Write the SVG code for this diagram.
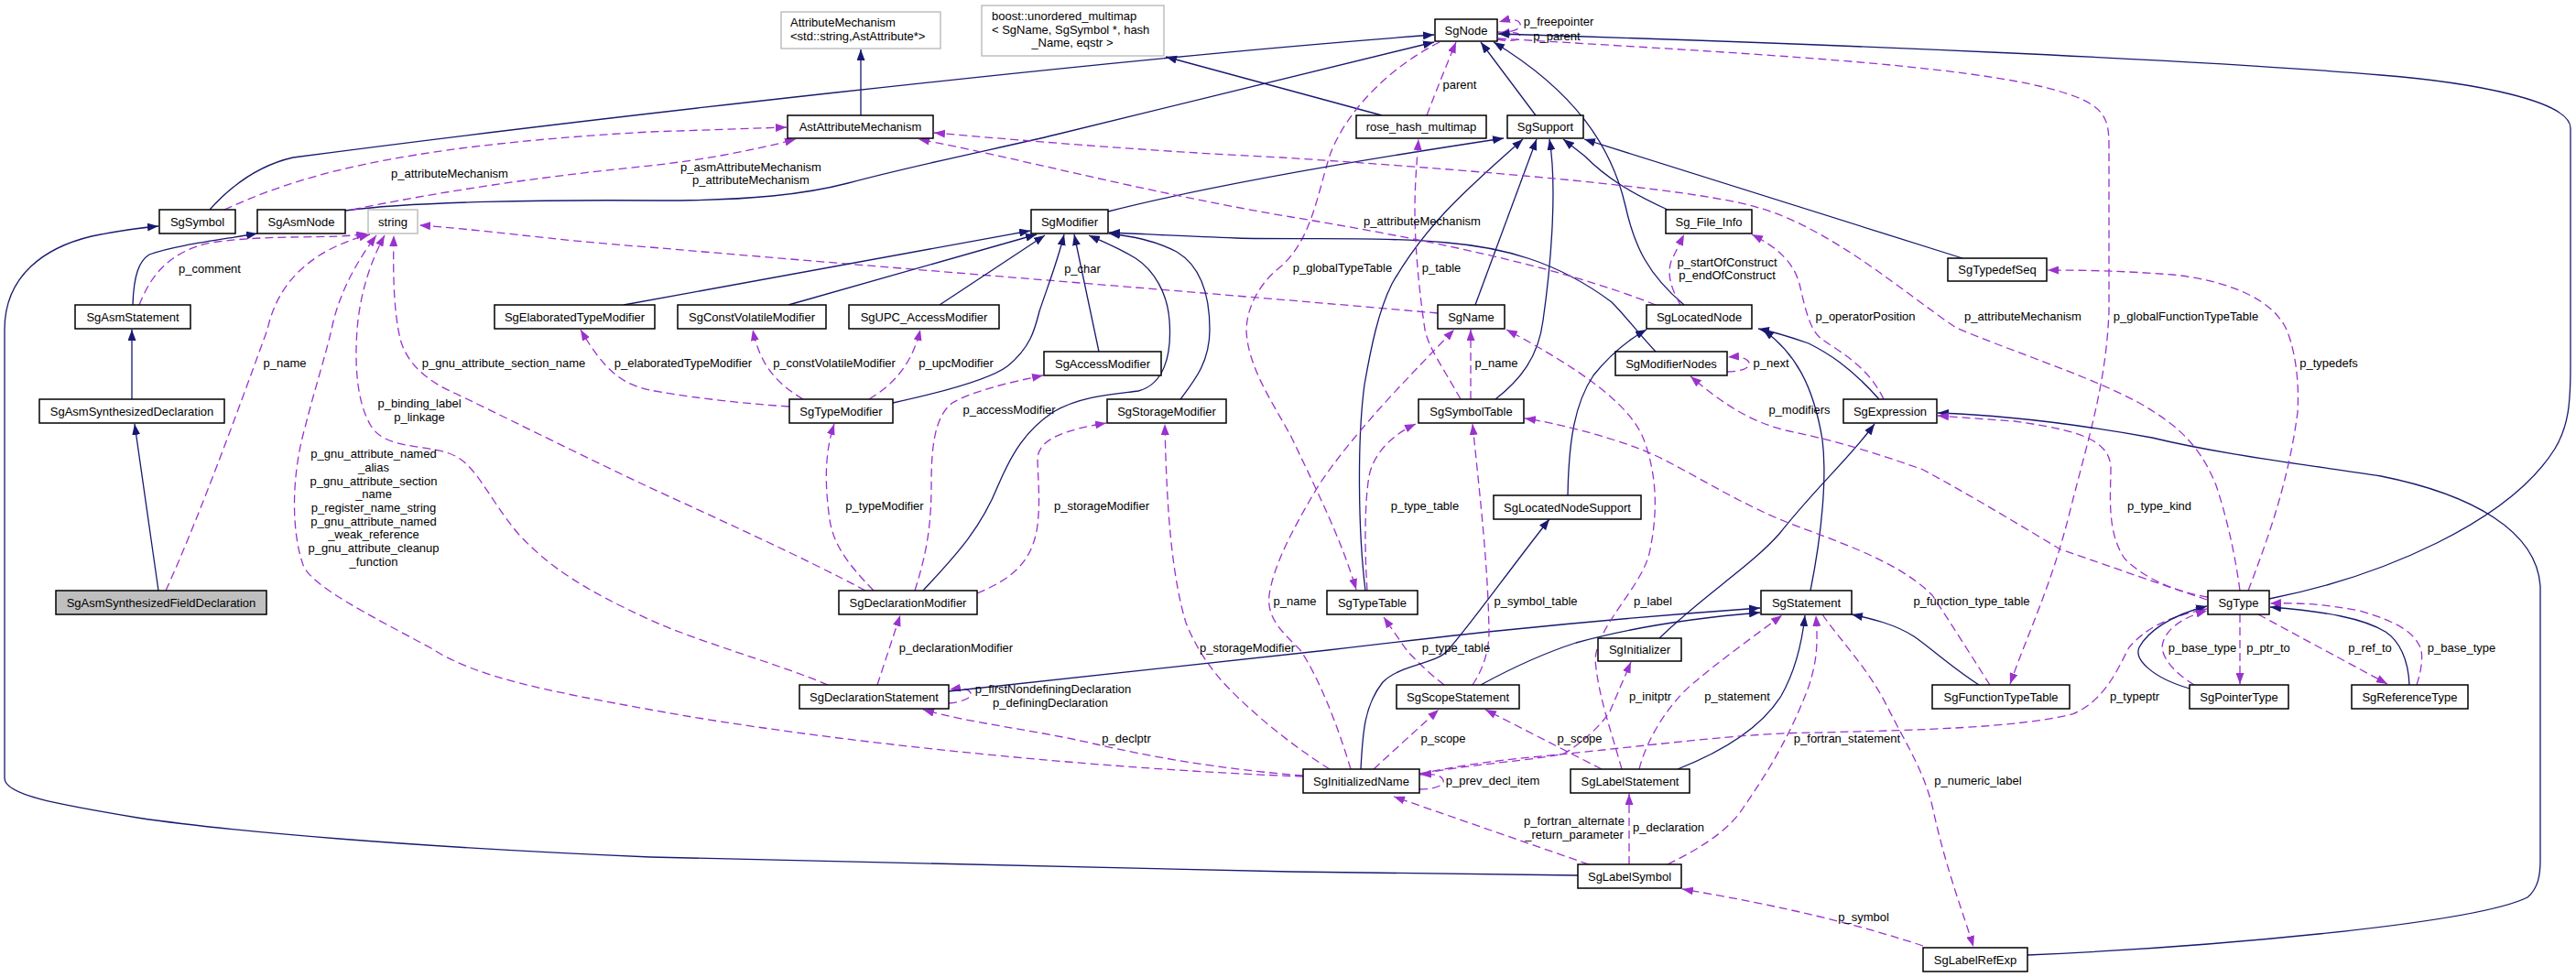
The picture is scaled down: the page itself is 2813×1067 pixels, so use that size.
<svg xmlns="http://www.w3.org/2000/svg" width="2813" height="1067" viewBox="0 0 2813 1067">
<defs>
<marker id="ai" viewBox="0 0 12 9" refX="12" refY="4.5" markerWidth="12" markerHeight="9" markerUnits="userSpaceOnUse" orient="auto"><path d="M0,0 L12,4.5 L0,9 z" fill="#191970" stroke="none"/></marker>
<marker id="au" viewBox="0 0 12 9" refX="12" refY="4.5" markerWidth="12" markerHeight="9" markerUnits="userSpaceOnUse" orient="auto"><path d="M0,0 L12,4.5 L0,9 z" fill="#9a32cd" stroke="none"/></marker>
<style>
text{font-family:"Liberation Sans",Arial,Helvetica,sans-serif;font-size:13px;fill:#000}
.n rect{fill:#fff;stroke:#000;stroke-width:1.5}
.g rect{fill:#fff;stroke:#bfbfbf;stroke-width:1.5}
.f rect{fill:#bfbfbf;stroke:#000;stroke-width:1.5}
.nt{text-anchor:middle}
.el{text-anchor:middle}
.i{fill:none;stroke:#191970;stroke-width:1.3;marker-end:url(#ai)}
.u{fill:none;stroke:#9a32cd;stroke-width:1.3;stroke-dasharray:9,5;marker-end:url(#au)}
</style>
</defs>
<rect width="2813" height="1067" fill="#fff"/>
<g id="edges">
<path class="i" d="M173,645 L147,463"/>
<path class="i" d="M144,436 L144,360"/>
<path class="i" d="M145,333 C146,300 152,285 163,278 C190,268 240,262 281,255"/>
<path class="i" d="M229,229 C255,200 285,180 320,172 C600,135 1200,65 1566,38"/>
<path class="u" d="M245,229 C320,195 420,160 710,144 L859,139"/>
<path class="i" d="M377,230 C450,220 600,218 720,219 C820,219 880,212 926,200 C1000,180 1100,160 1153,147 L1566,46"/>
<path class="u" d="M385,229 C500,205 620,190 700,182 C760,176 820,165 869,152"/>
<path class="u" d="M152,333 C165,300 185,275 230,265 C300,255 360,262 401,255"/>
<path class="u" d="M181,645 C220,560 270,420 292,360 C305,300 350,270 404,256"/>
<path class="u" d="M1423,848 C1200,840 900,810 710,775 C600,755 520,740 471,708 C400,670 340,640 331,617 C318,580 318,520 333,467 C345,420 355,390 362,360 C370,320 390,285 411,257"/>
<path class="u" d="M904,748 C850,725 760,700 710,677 C640,645 600,620 566,583 C530,540 520,505 490,495 C460,485 420,490 405,465 C390,440 387,400 390,360 C393,320 405,285 420,257"/>
<path class="u" d="M945,645 C880,610 780,565 700,528 C620,490 540,450 498,430 C470,418 445,400 437,370 C430,340 429,300 430,257"/>
<path class="u" d="M1570,342 C1300,318 1000,295 710,270 C600,262 520,250 458,246"/>
<path class="i" d="M940,126 L940,54"/>
<path class="i" d="M1509,126 L1273,62"/>
<path class="u" d="M1558,126 C1570,95 1580,70 1590,46"/>
<path class="u" d="M1635,35 C1650,36 1662,32 1660,26 C1658,21 1650,20 1637,24"/>
<path class="u" d="M1635,43 C1650,46 1662,44 1660,39 C1658,35 1650,35 1637,37"/>
<path class="i" d="M1677,126 L1617,46"/>
<path class="i" d="M1839,333 C1800,300 1785,270 1775,225 C1760,160 1720,100 1631,46"/>
<path class="i" d="M2478,654 C2600,630 2740,570 2790,490 C2805,465 2807,440 2807,400 L2807,140 C2807,110 2700,90 2600,82 C2400,65 2000,48 1636,37"/>
<path class="u" d="M1636,42 C1900,58 2150,70 2250,100 C2300,115 2303,130 2303,160 L2303,340 C2300,420 2280,480 2260,560 C2240,640 2215,690 2195,747"/>
<path class="u" d="M1572,46 C1520,72 1470,120 1452,170 C1438,215 1432,260 1400,290 C1380,305 1362,330 1361,360 C1362,400 1390,440 1410,477 C1440,540 1465,590 1481,644"/>
<path class="i" d="M1210,231 C1300,208 1450,180 1642,151"/>
<path class="i" d="M1491,645 C1483,580 1482,480 1490,420 C1497,380 1505,340 1520,310 C1560,240 1610,200 1663,152"/>
<path class="i" d="M1611,333 L1678,152"/>
<path class="i" d="M1633,436 C1660,415 1680,390 1685,350 C1695,280 1700,200 1692,152"/>
<path class="i" d="M1821,229 C1780,210 1755,195 1730,170 L1707,152"/>
<path class="i" d="M2143,282 L1730,152"/>
<path class="i" d="M681,333 L1125,252"/>
<path class="i" d="M861,333 L1132,256"/>
<path class="i" d="M1026,333 L1141,257"/>
<path class="i" d="M975,440 C1030,428 1080,415 1100,400 C1125,380 1130,360 1135,340 C1145,310 1155,285 1162,256"/>
<path class="i" d="M1200,384 L1173,256"/>
<path class="i" d="M1008,645 C1040,610 1070,580 1090,530 C1105,495 1120,470 1150,450 C1180,432 1220,430 1243,427 C1270,420 1280,390 1277,350 C1275,320 1260,295 1240,282 C1220,270 1200,262 1189,257"/>
<path class="i" d="M1289,436 C1305,415 1321,395 1321,360 C1321,320 1310,290 1285,275 C1260,262 1235,258 1211,255"/>
<path class="i" d="M1808,384 C1790,365 1775,345 1760,330 C1700,285 1640,270 1580,265 C1500,258 1420,262 1350,260 C1290,258 1240,255 1211,254"/>
<path class="i" d="M1723,956 L1410,952 C1100,946 900,942 710,936 C450,925 250,908 150,893 C60,878 5,868 5,850 L5,360 C5,300 50,270 100,258 C130,252 150,249 173,247"/>
<path class="u" d="M862,444 C800,440 740,432 710,426 C680,420 660,405 634,360"/>
<path class="u" d="M877,436 C850,420 830,400 822,360"/>
<path class="u" d="M949,436 C975,420 995,400 1005,360"/>
<path class="u" d="M954,645 C920,610 908,590 905,560 C900,520 902,490 911,463"/>
<path class="u" d="M999,645 C1010,610 1017,580 1017,530 C1017,490 1020,455 1040,440 C1060,428 1100,418 1139,410"/>
<path class="u" d="M1067,648 C1105,632 1125,615 1132,580 C1137,550 1133,520 1133,500 C1135,480 1160,470 1208,462"/>
<path class="u" d="M1452,840 C1420,820 1380,790 1345,755 C1320,730 1305,705 1295,680 C1280,630 1274,560 1272,463"/>
<path class="u" d="M958,748 L983,672"/>
<path class="u" d="M1036,768 C1050,767 1062,762 1060,757 C1058,752 1050,751 1037,753"/>
<path class="i" d="M1036,755 C1200,738 1350,722 1450,710 C1550,698 1700,680 1922,664"/>
<path class="u" d="M1423,847 C1330,840 1250,825 1198,813 C1130,797 1060,790 1008,775"/>
<path class="u" d="M1550,862 C1566,862 1578,858 1576,852 C1574,846 1565,845 1551,846"/>
<path class="u" d="M1500,840 L1571,775"/>
<path class="u" d="M1749,840 L1622,775"/>
<path class="u" d="M1608,748 C1620,730 1626,710 1626,690 C1625,620 1617,550 1608,463"/>
<path class="u" d="M1577,748 C1560,735 1545,720 1536,710 L1511,674"/>
<path class="u" d="M1493,645 C1490,600 1490,550 1495,520 C1500,495 1520,475 1546,463"/>
<path class="u" d="M1606,436 L1606,360"/>
<path class="u" d="M1595,436 C1575,400 1560,380 1556,360 C1550,320 1545,270 1545,230 C1545,200 1547,180 1549,152"/>
<path class="u" d="M1475,840 C1460,790 1440,740 1420,710 C1400,690 1383,675 1386,650 C1390,620 1410,580 1440,530 C1480,470 1540,410 1588,360"/>
<path class="u" d="M1771,840 C1760,800 1745,760 1742,720 C1745,680 1795,640 1802,600 C1810,560 1810,520 1795,480 C1780,440 1720,400 1645,360"/>
<path class="i" d="M1712,541 C1713,480 1720,440 1740,410 C1760,385 1780,370 1798,360"/>
<path class="i" d="M1617,748 C1650,730 1690,712 1721,702 C1790,683 1860,674 1922,669"/>
<path class="i" d="M1486,840 C1488,800 1490,770 1510,745 C1530,725 1570,725 1581,710 C1600,690 1650,620 1692,567"/>
<path class="i" d="M1812,697 C1860,650 1910,620 1943,583 C1985,530 2020,500 2047,463"/>
<path class="i" d="M2052,436 C2020,400 1995,385 1975,375 C1955,368 1935,362 1920,359"/>
<path class="i" d="M1977,645 C1990,580 1995,520 1990,480 C1980,420 1960,385 1925,360"/>
<path class="i" d="M1832,840 C1870,825 1920,800 1945,760 C1962,730 1968,700 1971,672"/>
<path class="i" d="M2161,748 C2130,728 2105,705 2090,695 C2070,682 2045,676 2022,671"/>
<path class="u" d="M2173,748 C2155,720 2130,680 2110,650 C2070,610 2000,590 1943,567 C1880,540 1830,505 1790,490 C1750,475 1700,462 1665,457"/>
<path class="u" d="M1550,845 C1600,835 1640,830 1672,827 C1800,815 1900,800 1989,800 C2100,797 2200,795 2263,780 C2300,765 2315,725 2325,707 C2340,690 2360,675 2410,665"/>
<path class="u" d="M1735,944 L1522,870"/>
<path class="u" d="M1779,944 L1779,867"/>
<path class="u" d="M1790,840 C1800,800 1830,760 1853,743 C1880,720 1915,695 1946,672"/>
<path class="u" d="M1554,845 C1600,835 1680,830 1708,823 C1730,810 1750,790 1758,777 L1781,723"/>
<path class="u" d="M1821,944 C1860,925 1890,905 1905,880 C1940,830 1960,790 1975,750 C1985,720 1985,700 1983,672"/>
<path class="u" d="M1990,671 C2010,700 2040,730 2060,770 C2080,810 2100,840 2110,880 C2125,950 2145,1000 2155,1034"/>
<path class="u" d="M2100,1033 C2030,1010 1950,990 1837,971"/>
<path class="i" d="M2214,1043 C2400,1035 2700,1010 2760,980 C2772,970 2774,955 2774,940 L2774,640 C2770,580 2700,540 2600,520 C2500,505 2420,495 2350,478 C2250,460 2180,453 2116,451"/>
<path class="u" d="M2411,652 C2370,645 2340,630 2320,610 C2300,580 2305,540 2305,510 C2303,480 2270,470 2200,460 L2116,454"/>
<path class="u" d="M2410,655 C2350,635 2280,610 2250,600 C2200,570 2150,540 2100,513 C2050,495 2000,480 1950,470 C1910,460 1880,440 1846,411"/>
<path class="u" d="M1886,406 C1900,406 1912,402 1910,396 C1908,391 1900,389 1887,390"/>
<path class="u" d="M1835,333 C1825,315 1820,300 1825,285 L1839,256"/>
<path class="u" d="M2057,436 C2040,400 2010,385 1989,370 C1975,360 1970,330 1965,310 C1958,285 1940,270 1913,256"/>
<path class="u" d="M2455,645 C2480,580 2500,520 2509,450 C2512,400 2500,360 2491,350 C2470,320 2420,305 2373,300 C2320,296 2280,295 2236,295"/>
<path class="u" d="M2446,645 C2440,600 2430,560 2420,530 C2400,480 2370,460 2336,440 C2280,410 2200,385 2136,358 C2080,320 2000,250 1921,227 C1850,205 1600,185 1400,172 C1250,165 1100,152 1020,145"/>
<path class="u" d="M1808,333 C1700,290 1550,260 1410,237 C1250,210 1100,170 1003,152"/>
<path class="i" d="M2391,752 C2350,740 2330,720 2336,707 C2345,690 2370,672 2410,662"/>
<path class="u" d="M2396,748 C2375,735 2362,720 2361,707 C2362,690 2380,675 2410,667"/>
<path class="u" d="M2446,671 L2446,747"/>
<path class="u" d="M2466,671 L2607,747"/>
<path class="i" d="M2631,748 C2630,720 2620,700 2605,690 C2580,675 2540,668 2479,663"/>
<path class="u" d="M2639,748 C2645,730 2646,715 2643,707 C2635,690 2620,680 2577,667 C2540,660 2510,658 2479,659"/>
</g>
<g id="edge-labels">
<text class="el" x="491" y="194">p_attributeMechanism</text>
<text class="el" x="820" y="187">p_asmAttributeMechanism</text>
<text class="el" x="820" y="201">p_attributeMechanism</text>
<text class="el" x="229" y="298">p_comment</text>
<text class="el" x="311" y="401">p_name</text>
<text class="el" x="408" y="500">p_gnu_attribute_named</text>
<text class="el" x="408" y="515">_alias</text>
<text class="el" x="408" y="530">p_gnu_attribute_section</text>
<text class="el" x="408" y="544">_name</text>
<text class="el" x="408" y="559">p_register_name_string</text>
<text class="el" x="408" y="574">p_gnu_attribute_named</text>
<text class="el" x="408" y="588">_weak_reference</text>
<text class="el" x="408" y="603">p_gnu_attribute_cleanup</text>
<text class="el" x="408" y="618">_function</text>
<text class="el" x="458" y="445">p_binding_label</text>
<text class="el" x="458" y="460">p_linkage</text>
<text class="el" x="550" y="401">p_gnu_attribute_section_name</text>
<text class="el" x="746" y="401">p_elaboratedTypeModifier</text>
<text class="el" x="911" y="401">p_constVolatileModifier</text>
<text class="el" x="1044" y="401">p_upcModifier</text>
<text class="el" x="1182" y="298">p_char</text>
<text class="el" x="1594" y="97">parent</text>
<text class="el" x="1702" y="28">p_freepointer</text>
<text class="el" x="1700" y="44">p_parent</text>
<text class="el" x="1466" y="297">p_globalTypeTable</text>
<text class="el" x="1574" y="297">p_table</text>
<text class="el" x="1553" y="246">p_attributeMechanism</text>
<text class="el" x="1886" y="291">p_startOfConstruct</text>
<text class="el" x="1886" y="305">p_endOfConstruct</text>
<text class="el" x="2037" y="350">p_operatorPosition</text>
<text class="el" x="2209" y="350">p_attributeMechanism</text>
<text class="el" x="2387" y="350">p_globalFunctionTypeTable</text>
<text class="el" x="2543" y="401">p_typedefs</text>
<text class="el" x="1634" y="401">p_name</text>
<text class="el" x="1934" y="401">p_next</text>
<text class="el" x="1965" y="452">p_modifiers</text>
<text class="el" x="1102" y="452">p_accessModifier</text>
<text class="el" x="966" y="557">p_typeModifier</text>
<text class="el" x="1203" y="557">p_storageModifier</text>
<text class="el" x="1556" y="557">p_type_table</text>
<text class="el" x="2358" y="557">p_type_kind</text>
<text class="el" x="1414" y="661">p_name</text>
<text class="el" x="1677" y="661">p_symbol_table</text>
<text class="el" x="1805" y="661">p_label</text>
<text class="el" x="2153" y="661">p_function_type_table</text>
<text class="el" x="1044" y="712">p_declarationModifier</text>
<text class="el" x="1362" y="712">p_storageModifier</text>
<text class="el" x="1590" y="712">p_type_table</text>
<text class="el" x="2405" y="712">p_base_type</text>
<text class="el" x="2477" y="712">p_ptr_to</text>
<text class="el" x="2588" y="712">p_ref_to</text>
<text class="el" x="2688" y="712">p_base_type</text>
<text class="el" x="1150" y="757">p_firstNondefiningDeclaration</text>
<text class="el" x="1147" y="772">p_definingDeclaration</text>
<text class="el" x="1802" y="765">p_initptr</text>
<text class="el" x="1897" y="765">p_statement</text>
<text class="el" x="2331" y="765">p_typeptr</text>
<text class="el" x="1230" y="811">p_declptr</text>
<text class="el" x="1576" y="811">p_scope</text>
<text class="el" x="1725" y="811">p_scope</text>
<text class="el" x="2017" y="811">p_fortran_statement</text>
<text class="el" x="1630" y="857">p_prev_decl_item</text>
<text class="el" x="2160" y="857">p_numeric_label</text>
<text class="el" x="1719" y="901">p_fortran_alternate</text>
<text class="el" x="1719" y="916">_return_parameter</text>
<text class="el" x="1822" y="908">p_declaration</text>
<text class="el" x="2035" y="1006">p_symbol</text>
</g>
<g id="SgAsmSynthesizedFieldDeclaration" class="f"><rect x="61" y="645" width="230" height="26"/><text class="nt" x="176" y="662.5">SgAsmSynthesizedFieldDeclaration</text></g>
<g id="SgAsmSynthesizedDeclaration" class="n"><rect x="43" y="436" width="202" height="26"/><text class="nt" x="144" y="453.5">SgAsmSynthesizedDeclaration</text></g>
<g id="SgAsmStatement" class="n"><rect x="82" y="333" width="126" height="26"/><text class="nt" x="145" y="350.5">SgAsmStatement</text></g>
<g id="SgSymbol" class="n"><rect x="174" y="229" width="83" height="26"/><text class="nt" x="215.5" y="246.5">SgSymbol</text></g>
<g id="SgAsmNode" class="n"><rect x="281" y="229" width="96" height="26"/><text class="nt" x="329" y="246.5">SgAsmNode</text></g>
<g id="string" class="g"><rect x="402" y="229" width="54" height="26"/><text class="nt" x="429" y="246.5">string</text></g>
<g id="AttributeMechanism" class="g"><rect x="853" y="13" width="174" height="40"/><text x="863" y="29">AttributeMechanism</text><text x="863" y="44">&lt;std::string,AstAttribute*&gt;</text></g>
<g id="boost_unordered_multimap" class="g"><rect x="1072" y="6" width="199" height="55"/><text x="1083" y="22">boost::unordered_multimap</text><text x="1083" y="37">&lt; SgName, SgSymbol *, hash</text><text class="nt" x="1171" y="51">_Name, eqstr &gt;</text></g>
<g id="AstAttributeMechanism" class="n"><rect x="860" y="126" width="159" height="25"/><text class="nt" x="939.5" y="143">AstAttributeMechanism</text></g>
<g id="SgNode" class="n"><rect x="1567" y="21" width="68" height="24"/><text class="nt" x="1601" y="37.5">SgNode</text></g>
<g id="rose_hash_multimap" class="n"><rect x="1481" y="126" width="142" height="25"/><text class="nt" x="1552" y="143">rose_hash_multimap</text></g>
<g id="SgSupport" class="n"><rect x="1646" y="126" width="83" height="25"/><text class="nt" x="1687.5" y="143">SgSupport</text></g>
<g id="SgModifier" class="n"><rect x="1126" y="229" width="84" height="26"/><text class="nt" x="1168" y="246.5">SgModifier</text></g>
<g id="Sg_File_Info" class="n"><rect x="1819" y="229" width="94" height="26"/><text class="nt" x="1866" y="246.5">Sg_File_Info</text></g>
<g id="SgElaboratedTypeModifier" class="n"><rect x="540" y="333" width="175" height="26"/><text class="nt" x="627.5" y="350.5">SgElaboratedTypeModifier</text></g>
<g id="SgConstVolatileModifier" class="n"><rect x="740" y="333" width="162" height="26"/><text class="nt" x="821" y="350.5">SgConstVolatileModifier</text></g>
<g id="SgUPC_AccessModifier" class="n"><rect x="927" y="333" width="164" height="26"/><text class="nt" x="1009" y="350.5">SgUPC_AccessModifier</text></g>
<g id="SgName" class="n"><rect x="1570" y="333" width="73" height="26"/><text class="nt" x="1606.5" y="350.5">SgName</text></g>
<g id="SgLocatedNode" class="n"><rect x="1798" y="333" width="115" height="26"/><text class="nt" x="1855.5" y="350.5">SgLocatedNode</text></g>
<g id="SgTypedefSeq" class="n"><rect x="2127" y="282" width="108" height="25"/><text class="nt" x="2181" y="299">SgTypedefSeq</text></g>
<g id="SgAccessModifier" class="n"><rect x="1140" y="384" width="128" height="26"/><text class="nt" x="1204" y="401.5">SgAccessModifier</text></g>
<g id="SgModifierNodes" class="n"><rect x="1764" y="384" width="122" height="26"/><text class="nt" x="1825" y="401.5">SgModifierNodes</text></g>
<g id="SgTypeModifier" class="n"><rect x="862" y="436" width="113" height="26"/><text class="nt" x="918.5" y="453.5">SgTypeModifier</text></g>
<g id="SgStorageModifier" class="n"><rect x="1209" y="436" width="130" height="26"/><text class="nt" x="1274" y="453.5">SgStorageModifier</text></g>
<g id="SgSymbolTable" class="n"><rect x="1549" y="436" width="115" height="26"/><text class="nt" x="1606.5" y="453.5">SgSymbolTable</text></g>
<g id="SgExpression" class="n"><rect x="2013" y="436" width="102" height="26"/><text class="nt" x="2064" y="453.5">SgExpression</text></g>
<g id="SgLocatedNodeSupport" class="n"><rect x="1631" y="541" width="161" height="26"/><text class="nt" x="1711.5" y="558.5">SgLocatedNodeSupport</text></g>
<g id="SgDeclarationModifier" class="n"><rect x="916" y="645" width="151" height="26"/><text class="nt" x="991.5" y="662.5">SgDeclarationModifier</text></g>
<g id="SgTypeTable" class="n"><rect x="1449" y="645" width="99" height="26"/><text class="nt" x="1498.5" y="662.5">SgTypeTable</text></g>
<g id="SgStatement" class="n"><rect x="1923" y="645" width="99" height="26"/><text class="nt" x="1972.5" y="662.5">SgStatement</text></g>
<g id="SgType" class="n"><rect x="2411" y="645" width="67" height="26"/><text class="nt" x="2444.5" y="662.5">SgType</text></g>
<g id="SgInitializer" class="n"><rect x="1745" y="697" width="91" height="25"/><text class="nt" x="1790.5" y="714">SgInitializer</text></g>
<g id="SgDeclarationStatement" class="n"><rect x="873" y="748" width="163" height="26"/><text class="nt" x="954.5" y="765.5">SgDeclarationStatement</text></g>
<g id="SgScopeStatement" class="n"><rect x="1525" y="748" width="134" height="26"/><text class="nt" x="1592" y="765.5">SgScopeStatement</text></g>
<g id="SgFunctionTypeTable" class="n"><rect x="2110" y="748" width="150" height="26"/><text class="nt" x="2185" y="765.5">SgFunctionTypeTable</text></g>
<g id="SgPointerType" class="n"><rect x="2391" y="748" width="108" height="26"/><text class="nt" x="2445" y="765.5">SgPointerType</text></g>
<g id="SgReferenceType" class="n"><rect x="2568" y="748" width="127" height="26"/><text class="nt" x="2631.5" y="765.5">SgReferenceType</text></g>
<g id="SgInitializedName" class="n"><rect x="1423" y="840" width="127" height="26"/><text class="nt" x="1486.5" y="857.5">SgInitializedName</text></g>
<g id="SgLabelStatement" class="n"><rect x="1715" y="840" width="130" height="26"/><text class="nt" x="1780" y="857.5">SgLabelStatement</text></g>
<g id="SgLabelSymbol" class="n"><rect x="1723" y="944" width="113" height="26"/><text class="nt" x="1779.5" y="961.5">SgLabelSymbol</text></g>
<g id="SgLabelRefExp" class="n"><rect x="2100" y="1035" width="114" height="26"/><text class="nt" x="2157" y="1052.5">SgLabelRefExp</text></g>
</svg>
